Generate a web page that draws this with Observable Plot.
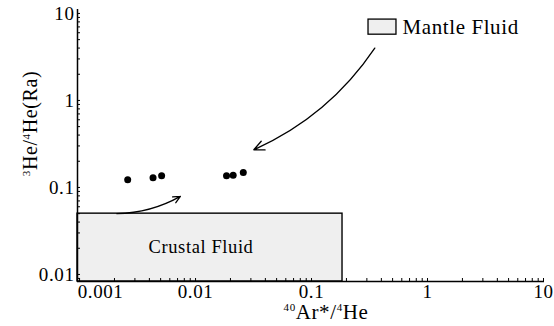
<!DOCTYPE html>
<html><head><meta charset="utf-8">
<script src="https://cdn.jsdelivr.net/npm/d3@7"></script>
<script src="https://cdn.jsdelivr.net/npm/@observablehq/plot@0.6"></script>
<style>
body{margin:0;background:#fff}
svg, svg text{font-family:"Liberation Serif", Tinos, "Times New Roman", Times, serif !important;}
svg text{letter-spacing:0.6px}
</style></head><body><div id="chart"></div>
<script>
// Samples (40Ar*/4He, 3He/4He in Ra)
const sampleX = [0.0026, 0.0043, 0.0051, 0.0185, 0.0211, 0.0258];
const sampleY = [0.123, 0.129, 0.136, 0.136, 0.138, 0.149];
// Axis domains and tick labels
const xDomain = [0.00096, 10.2];
const yDomain = [0.0083, 11.1];
const xTickLabels = [0.001, 0.01, 0.1, 1, 10];
const yTickLabels = [0.01, 0.1, 1, 10];
// End-member fields
const crustalX = [0.00096, 0.185];
const crustalY = [0.0083, 0.05];
const mantleBoxX = [0.31, 0.54];
const mantleBoxY = [5.7, 8.5];
// Arrows [start, end]
const mantleArrowX = [0.351, 0.0318];
const mantleArrowY = [3.99, 0.271];
const crustalArrowX = [0.0021, 0.0074];
const crustalArrowY = [0.05, 0.079];
// Labels: [text, isSuperscript]
const fieldLabels = ["Crustal Fluid", "Mantle Fluid"];
const xTitleParts = [["40", true], ["Ar*/", false], ["4", true], ["He", false]];
const yTitleParts = [["3", true], ["He/", false], ["4", true], ["He(Ra)", false]];

const samples = sampleX.map((x, i) => ({x, y: sampleY[i]}));
const gm = (a) => Math.sqrt(a[0] * a[1]);
const joinParts = (p) => p.map(d => d[0]).join("");
const font = '"Liberation Serif", Tinos, "Times New Roman", serif';

const chart = Plot.plot({
  width: 554, height: 326,
  marginLeft: 77, marginRight: 10, marginTop: 9, marginBottom: 45,
  style: {fontFamily: font, fontSize: "19px", color: "black", background: "white"},
  x: {type: "log", domain: xDomain, label: null},
  y: {type: "log", domain: yDomain, label: null},
  marks: [
    Plot.rect([{x1: crustalX[0], x2: crustalX[1], y1: crustalY[0], y2: crustalY[1]}],
      {x1: "x1", x2: "x2", y1: "y1", y2: "y2", fill: "#efefef", stroke: "black", strokeWidth: 1.4}),
    Plot.text([fieldLabels[0]], {x: gm(crustalX), y: gm(crustalY), text: d => d, dx: -9, fontSize: 18.5, fontFamily: font}),
    Plot.rect([{x1: mantleBoxX[0], x2: mantleBoxX[1], y1: mantleBoxY[0], y2: mantleBoxY[1]}],
      {x1: "x1", x2: "x2", y1: "y1", y2: "y2", fill: "#efefef", stroke: "black", strokeWidth: 1.3}),
    Plot.text([fieldLabels[1]], {x: mantleBoxX[1], y: gm(mantleBoxY), text: d => d, textAnchor: "start", dx: 6, fontSize: 21, fontFamily: font}),
    Plot.arrow([0], {x1: () => mantleArrowX[0], y1: () => mantleArrowY[0], x2: () => mantleArrowX[1], y2: () => mantleArrowY[1],
      bend: 16, headLength: 13, headAngle: 50, stroke: "black", strokeWidth: 1.3}),
    Plot.arrow([0], {x1: () => crustalArrowX[0], y1: () => crustalArrowY[0], x2: () => crustalArrowX[1], y2: () => crustalArrowY[1],
      bend: -14, headLength: 9, headAngle: 50, stroke: "black", strokeWidth: 1.3}),
    Plot.dot(samples, {x: "x", y: "y", r: 3.5, fill: "black"}),
    Plot.ruleX([xDomain[0]], {stroke: "black", strokeWidth: 1.5}),
    Plot.ruleY([yDomain[0]], {stroke: "black", strokeWidth: 1.5}),
    Plot.axisX({tickSize: 3, dy: -3, fill: "none", label: null}),
    Plot.axisY({tickSize: 3, dx: 3, fill: "none", label: null}),
    Plot.axisY(yTickLabels, {tickSize: 0, tickPadding: 3, tickFormat: d => String(d), label: null, fontSize: 19, fontFamily: font}),
    Plot.text(xTickLabels.slice(0, 1), {x: d => d, text: d => String(d), frameAnchor: "bottom", lineAnchor: "top", dy: 3, dx: 21, fontSize: 19, fontFamily: font}),
    Plot.text(xTickLabels.slice(1), {x: d => d, text: d => String(d), frameAnchor: "bottom", lineAnchor: "top", dy: 3, fontSize: 19, fontFamily: font}),
    Plot.text([joinParts(xTitleParts)], {frameAnchor: "bottom", text: d => d, dx: 15, dy: 37, fontSize: 21, fontFamily: font}),
    Plot.text([joinParts(yTitleParts)], {frameAnchor: "left", text: d => d, textAnchor: "middle", rotate: -90, dx: -47, dy: -22, fontSize: 20, fontFamily: font})
  ]
});

// Rebuild the axis titles with real superscripts
function superscriptify(parts, supSize, rise) {
  const target = joinParts(parts);
  d3.select(chart).selectAll("text").filter(function() { return this.textContent === target; })
    .each(function() {
      const t = d3.select(this);
      t.text(null);
      let raised = false;
      parts.forEach(([s, sup]) => {
        const ts = t.append("tspan").text(s);
        if (sup) ts.attr("font-size", supSize);
        if (sup && !raised) { ts.attr("dy", -rise); raised = true; }
        else if (!sup && raised) { ts.attr("dy", rise); raised = false; }
      });
    });
}
superscriptify(xTitleParts, 11, 8);
superscriptify(yTitleParts, 11, 7);

document.getElementById("chart").appendChild(chart);
</script>
</body></html>
